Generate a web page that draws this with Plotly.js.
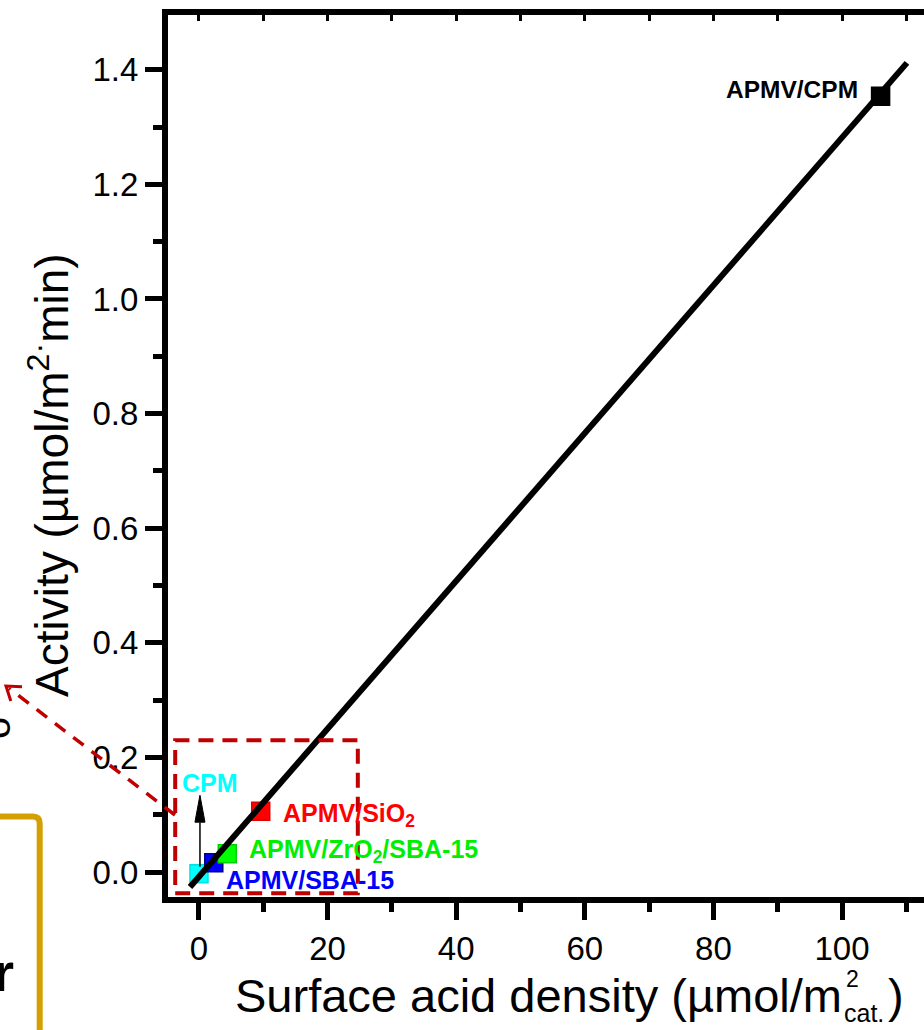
<!DOCTYPE html>
<html>
<head>
<meta charset="utf-8">
<script src="https://cdn.plot.ly/plotly-3.0.1.min.js"></script>
<style>html,body{margin:0;padding:0;background:#fff;}#chart{width:924px;height:1030px;}</style>
</head>
<body>
<div id="chart"></div>
<script>
// ---- data ----
const sampleNames = ["CPM", "APMV/SBA-15", "APMV/ZrO2/SBA-15", "APMV/SiO2", "APMV/CPM"];
const acidDensity = [0.0, 2.3, 4.4, 9.6, 106.0];       // µmol/m2 cat.
const activity    = [-0.003, 0.016, 0.032, 0.106, 1.354]; // µmol/m2·min
const sampleColors = ["#00FFFF", "#0000FF", "#00FF00", "#FF0000", "#000000"];
const sampleLines  = ["#00E0E0", "#000080", "#00D000", "#E00000", "#000000"];

// linear fit line (end points)
const fitX = [-1.4, 110.1];
const fitY = [-0.026, 1.412];

// axis ticks
const xTickVals = [0, 20, 40, 60, 80, 100];
const yTickVals = [0.0, 0.2, 0.4, 0.6, 0.8, 1.0, 1.2, 1.4];

// ---- layout geometry ----
const W = 924, H = 1030;
const ML = 168, MR = 0, MT = 15, MB = 133;
const PW = W - ML - MR, PH = H - MT - MB;
const PB = H - MB;
const px = v => (v - ML) / PW;
const py = v => (PB - v) / PH;

const FONT = "Liberation Sans, Arial, Helvetica, sans-serif";
const DARKRED = "#C00000";

const traces = [
  {
    type: "scatter", mode: "markers",
    x: acidDensity, y: activity, text: sampleNames,
    marker: {symbol: "square", size: 18, color: sampleColors,
             line: {color: sampleLines, width: 1.5}},
    hoverinfo: "text+x+y", showlegend: false, cliponaxis: false
  },
  {
    type: "scatter", mode: "lines",
    x: fitX, y: fitY,
    line: {color: "#000000", width: 6},
    hoverinfo: "skip", showlegend: false
  },
  {
    type: "scatter", mode: "lines", x: [], y: [], xaxis: "x2", yaxis: "y",
    hoverinfo: "skip", showlegend: false
  }
];

const xRange = [-4.82, 112.75];
const yRange = [-0.0436, 1.4956];

const labelFont = (c, s) => ({family: FONT, size: s || 25, color: c});

const annotations = [
  // point labels
  {x: 102.8, y: 1.365, xref: "x", yref: "y", text: "<b>APMV/CPM</b>", showarrow: false,
   xanchor: "right", yanchor: "middle", font: labelFont("#000000", 24.5)},
  {x: -3.0, y: 0.155, xref: "x", yref: "y", text: "<b>CPM</b>", showarrow: false,
   xanchor: "left", yanchor: "middle", font: labelFont("#00FFFF", 25)},
  {x: 12.7, y: 0.100, xref: "x", yref: "y", text: "<b>APMV/SiO<sub>2</sub></b>", showarrow: false,
   xanchor: "left", yanchor: "middle", font: labelFont("#FF0000", 25)},
  {x: 7.4, y: 0.036, xref: "x", yref: "y", text: "<b>APMV/ZrO<sub>2</sub>/SBA-15</b>", showarrow: false,
   xanchor: "left", yanchor: "middle", font: labelFont("#00EE00", 25)},
  {x: 3.9, y: -0.014, xref: "x", yref: "y", text: "<b>APMV/SBA-15</b>", showarrow: false,
   xanchor: "left", yanchor: "middle", font: labelFont("#0000FF", 25)},

  // x-axis title, in pieces so the sub/superscript stack
  {x: px(233), y: py(995), xref: "paper", yref: "paper", text: "Surface acid density (µmol/m",
   showarrow: false, xanchor: "left", yanchor: "middle", font: {family: FONT, size: 47, color: "#000"}},
  {x: px(852), y: py(979), xref: "paper", yref: "paper", text: "2",
   showarrow: false, xanchor: "center", yanchor: "middle", font: {family: FONT, size: 23, color: "#000"}},
  {x: px(864), y: py(1013), xref: "paper", yref: "paper", text: "cat.",
   showarrow: false, xanchor: "center", yanchor: "middle", font: {family: FONT, size: 25, color: "#000"}},
  {x: px(896), y: py(995), xref: "paper", yref: "paper", text: ")",
   showarrow: false, xanchor: "center", yanchor: "middle", font: {family: FONT, size: 47, color: "#000"}},

  // y-axis title
  {x: px(49), y: py(475), xref: "paper", yref: "paper", text: "Activity (µmol/m<sup>2</sup><sup>·</sup>min)",
   textangle: -90, showarrow: false, xanchor: "center", yanchor: "middle",
   font: {family: FONT, size: 46, color: "#000"}},

  // fragments of the neighbouring panel (cut by the image edge in the reference too)
  {x: px(16), y: py(972), xref: "paper", yref: "paper", text: "<b>r</b>",
   showarrow: false, xanchor: "right", yanchor: "middle", font: {family: FONT, size: 54, color: "#000"}},
  {x: px(-4), y: py(728), xref: "paper", yref: "paper", text: "o", textangle: -90,
   showarrow: false, xanchor: "center", yanchor: "middle", font: {family: FONT, size: 40, color: "#000"}}
];

// arrow head geometry for the CPM arrow (data units)
const arrX = 0.15, arrBase = 0.009, arrHeadBase = 0.087, arrTip = 0.134, arrHalf = 0.78;
// dashed box (data units)
const boxX = [-3.7, 24.7], boxY = [-0.037, 0.230];

// red arrow geometry in pixels
const rA = {x0: 175, y0: 815, x1: 6, y1: 686};
const rArm1 = {x: 10.8, y: 701}, rArm2 = {x: 22, y: 686.7};

// gold frame path (pixels)
const gx = 39.7, gy = 816.5, gr = 7;
const goldPath = `M ${px(-40)} ${py(gy)} L ${px(gx - gr)} ${py(gy)} Q ${px(gx)} ${py(gy)} ${px(gx)} ${py(gy + gr)} L ${px(gx)} ${py(1090)}`;

const shapes = [
  {type: "rect", xref: "x", yref: "y", x0: boxX[0], x1: boxX[1], y0: boxY[0], y1: boxY[1],
   line: {color: DARKRED, width: 4, dash: "15px,9px"}, layer: "above"},
  {type: "line", xref: "x", yref: "y", x0: arrX, x1: arrX, y0: arrBase, y1: arrHeadBase,
   line: {color: "#000", width: 1.5}},
  {type: "path", xref: "x", yref: "y",
   path: `M ${arrX - arrHalf} ${arrHeadBase} L ${arrX} ${arrTip} L ${arrX + arrHalf} ${arrHeadBase} Z`,
   fillcolor: "#000", line: {color: "#000", width: 1}},
  {type: "line", xref: "paper", yref: "paper", x0: px(rA.x0), y0: py(rA.y0), x1: px(rA.x1 + 3), y1: py(rA.y1 + 2.3),
   line: {color: DARKRED, width: 3.5, dash: "13px,10px"}},
  {type: "path", xref: "paper", yref: "paper",
   path: `M ${px(rArm1.x)} ${py(rArm1.y)} L ${px(rA.x1)} ${py(rA.y1)} L ${px(rArm2.x)} ${py(rArm2.y)}`,
   line: {color: DARKRED, width: 3}},
  {type: "path", xref: "paper", yref: "paper", path: goldPath,
   line: {color: "#D4A000", width: 6}}
];

const layout = {
  width: W, height: H,
  margin: {l: ML, r: MR, t: MT, b: MB, pad: 0},
  paper_bgcolor: "#fff", plot_bgcolor: "#fff",
  showlegend: false,
  font: {family: FONT, color: "#000"},
  xaxis: {
    range: xRange, tickvals: xTickVals, ticktext: xTickVals.map(String),
    ticks: "outside", ticklen: 17, tickwidth: 5, tickcolor: "#000",
    minor: {dtick: 10, tick0: 0, ticks: "outside", ticklen: 9, tickwidth: 5, tickcolor: "#000"},
    showline: true, linewidth: 6, linecolor: "#000", mirror: true,
    showgrid: false, zeroline: false,
    tickfont: {family: FONT, size: 33, color: "#000"},
    title: {text: ""}
  },
  xaxis2: {
    overlaying: "x", side: "top", anchor: "y", range: xRange,
    ticks: "inside", ticklen: 6, tickwidth: 3, tickcolor: "#000", dtick: 10, tick0: 0,
    showticklabels: false, showline: false, showgrid: false, zeroline: false
  },
  yaxis: {
    range: yRange, tickvals: yTickVals, ticktext: yTickVals.map(v => v.toFixed(1)),
    ticks: "outside", ticklen: 17, tickwidth: 5, tickcolor: "#000",
    minor: {dtick: 0.1, tick0: 0, ticks: "outside", ticklen: 9, tickwidth: 5, tickcolor: "#000"},
    showline: true, linewidth: 6, linecolor: "#000",
    showgrid: false, zeroline: false,
    tickfont: {family: FONT, size: 33, color: "#000"},
    title: {text: ""}
  },
  annotations: annotations,
  shapes: shapes
};

Plotly.newPlot("chart", traces, layout, {displayModeBar: false, staticPlot: true});
</script>
</body>
</html>
